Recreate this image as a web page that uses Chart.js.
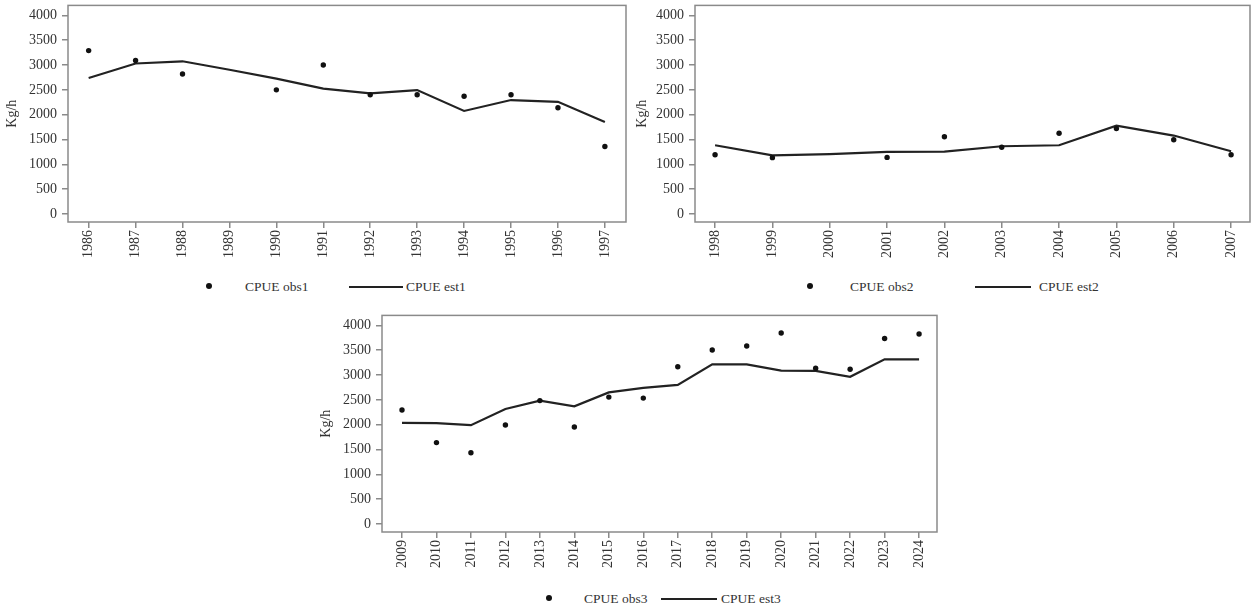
<!DOCTYPE html>
<html>
<head>
<meta charset="utf-8">
<script src="https://cdn.jsdelivr.net/npm/chart.js@4"></script>
<style>
  body { margin: 0; background: #fff; width: 1254px; height: 608px; position: relative; overflow: hidden; }
  .box { position: absolute; }
  .leg { position: absolute; font-family: "Liberation Serif", serif; font-size: 13.5px; color: #333; line-height: 14px; white-space: nowrap; }
  .dot { position: absolute; width: 6px; height: 6px; border-radius: 50%; background: #111; }
  .ln { position: absolute; height: 2px; background: #222; }
</style>
</head>
<body>
<div class="box" style="left:0;top:-8px;width:630px;height:278px"><canvas id="c1"></canvas></div>
<div class="box" style="left:630px;top:-8px;width:624px;height:278px"><canvas id="c2"></canvas></div>
<div class="box" style="left:314px;top:302px;width:630px;height:278px"><canvas id="c3"></canvas></div>

<div class="dot" style="left:206px;top:283px"></div>
<div class="leg" style="left:245px;top:280px">CPUE obs1</div>
<div class="ln" style="left:349px;top:286px;width:54px"></div>
<div class="leg" style="left:406px;top:280px">CPUE est1</div>

<div class="dot" style="left:807px;top:283px"></div>
<div class="leg" style="left:850px;top:280px">CPUE obs2</div>
<div class="ln" style="left:975px;top:286px;width:56px"></div>
<div class="leg" style="left:1039px;top:280px">CPUE est2</div>

<div class="dot" style="left:546px;top:595px"></div>
<div class="leg" style="left:584px;top:592px">CPUE obs3</div>
<div class="ln" style="left:661px;top:598px;width:56px"></div>
<div class="leg" style="left:721px;top:592px">CPUE est3</div>

<script>
const years1 = [1986, 1987, 1988, 1989, 1990, 1991, 1992, 1993, 1994, 1995, 1996, 1997];
const obs1 = [3290, 3090, 2820, null, 2500, 3000, 2400, 2400, 2370, 2400, 2140, 1360];
const est1 = [2740, 3030, 3075, 2905, 2725, 2525, 2430, 2495, 2075, 2295, 2260, 1855];

const years2 = [1998, 1999, 2000, 2001, 2002, 2003, 2004, 2005, 2006, 2007];
const obs2 = [1195, 1135, null, 1140, 1555, 1345, 1625, 1720, 1495, 1195];
const est2 = [1385, 1180, 1205, 1250, 1255, 1365, 1385, 1780, 1580, 1265];

const years3 = [2009, 2010, 2011, 2012, 2013, 2014, 2015, 2016, 2017, 2018, 2019, 2020, 2021, 2022, 2023, 2024];
const obs3 = [2295, 1640, 1435, 1995, 2485, 1955, 2555, 2535, 3165, 3505, 3585, 3845, 3135, 3115, 3735, 3825];
const est3 = [2035, 2030, 1990, 2315, 2485, 2370, 2650, 2740, 2800, 3215, 3215, 3090, 3085, 2965, 3315, 3315];

const yTicks = [0, 500, 1000, 1500, 2000, 2500, 3000, 3500, 4000];

const axisGray = '#8a8a8a';
const textGray = '#333';
const serif = "'Liberation Serif', 'Times New Roman', serif";

const boxPlugin = {
  id: 'box',
  afterDraw(chart) {
    const a = chart.chartArea, ctx = chart.ctx;
    ctx.save();
    ctx.strokeStyle = axisGray;
    ctx.lineWidth = 1.5;
    ctx.strokeRect(a.left, a.top, a.right - a.left, a.bottom - a.top);
    ctx.restore();
  }
};

function pairs(xs, ys) {
  return xs.map((x, i) => ({ x: x, y: ys[i] })).filter(p => p.y !== null);
}

function makeChart(id, years, obs, est, padL, padR, yWidth, rightPad) {
  new Chart(document.getElementById(id), {
    type: 'line',
    data: {
      datasets: [
        {
          data: pairs(years, obs),
          showLine: false,
          pointRadius: 2.7,
          pointBackgroundColor: '#111',
          pointBorderWidth: 0
        },
        {
          data: pairs(years, est),
          borderColor: '#222',
          borderWidth: 2.2,
          pointRadius: 0,
          tension: 0
        }
      ]
    },
    options: {
      responsive: true,
      maintainAspectRatio: false,
      animation: false,
      layout: { padding: { top: 5, right: rightPad, left: 0, bottom: 0 } },
      plugins: { legend: { display: false }, tooltip: { enabled: false } },
      scales: {
        x: {
          type: 'linear',
          min: years[0] - padL,
          max: years[years.length - 1] + padR,
          afterBuildTicks: s => { s.ticks = years.map(v => ({ value: v })); },
          afterFit: s => { s.height = 48; },
          grid: { display: true, drawOnChartArea: false, drawTicks: true, tickLength: 6, color: axisGray, lineWidth: 1.5 },
          border: { display: false },
          ticks: {
            autoSkip: false,
            minRotation: 90,
            maxRotation: 90,
            padding: 2,
            color: textGray,
            font: { family: serif, size: 14 },
            callback: v => String(v)
          }
        },
        y: {
          min: -160,
          max: 4200,
          afterBuildTicks: s => { s.ticks = yTicks.map(v => ({ value: v })); },
          afterFit: s => { s.width = yWidth; },
          grid: { display: true, drawOnChartArea: false, drawTicks: true, tickLength: 6, color: axisGray, lineWidth: 1.5 },
          border: { display: false },
          ticks: {
            padding: 5,
            color: textGray,
            font: { family: serif, size: 14 },
            callback: v => String(v)
          },
          title: {
            display: true,
            text: 'Kg/h',
            color: textGray,
            font: { family: serif, size: 14 },
            padding: { top: 4, bottom: 0 }
          }
        }
      }
    },
    plugins: [boxPlugin]
  });
}

makeChart('c1', years1, obs1, est1, 0.44, 0.45, 68, 3);
makeChart('c2', years2, obs2, est2, 0.35, 0.33, 65, 2);
makeChart('c3', years3, obs3, est3, 0.58, 0.52, 68, 7);
</script>
</body>
</html>
